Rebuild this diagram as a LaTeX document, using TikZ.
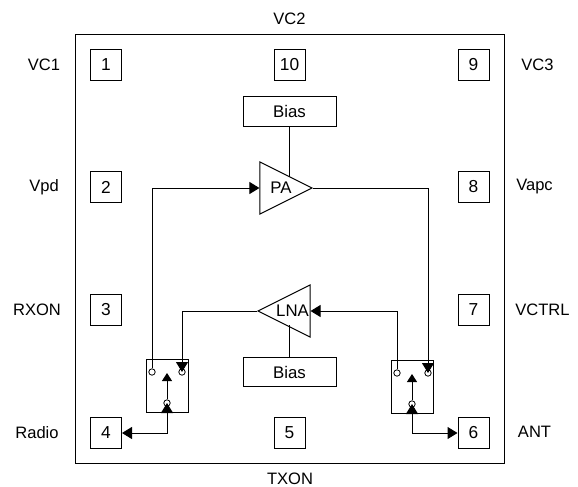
\documentclass[tikz,border=0pt]{standalone}
\usepackage{fontspec}
\setmainfont{Liberation Sans}
\usetikzlibrary{arrows.meta,shapes.geometric}
\tikzset{
  px/.style={x=0.75pt,y=-0.75pt},
  wire/.style={draw=black,line width=0.75pt},
  bigtip/.tip={Triangle[length=7.5pt,width=9pt]},
  tip/.style={-bigtip},
  pin/.style={draw,line width=0.75pt,minimum width=23.25pt,minimum height=23.25pt,inner sep=0pt,font=\fontsize{13}{15}\selectfont},
  biasbox/.style={draw,line width=0.75pt,minimum width=69.75pt,minimum height=22pt,inner sep=0pt,font=\fontsize{12.6}{14}\selectfont},
  swbox/.style={draw,line width=0.75pt,minimum width=31.5pt,minimum height=39.75pt,inner sep=0pt},
  contact/.style={circle,draw,line width=0.6pt,minimum size=4.8pt,inner sep=0pt},
  amp/.style={isosceles triangle,isosceles triangle stretches,draw,line width=0.75pt,minimum width=39pt,minimum height=39pt,inner sep=0pt},
  amplabel/.style={inner sep=0pt,font=\fontsize{12.6}{14}\selectfont},
  lab/.style={inner sep=0pt,font=\fontsize{12.4}{14}\selectfont}
}
\begin{document}
\begin{tikzpicture}[px]
\useasboundingbox (0,0) rectangle (578,486);
\node[draw,line width=0.75pt,minimum width=321.75pt,minimum height=321.75pt,inner sep=0pt] (chip) at (289.5,248.5) {};
\node[pin] (p1) at (106,65) {1};
\node[pin] (p10) at (289.5,65) {10};
\node[pin] (p9) at (473.5,65) {9};
\node[pin] (p2) at (106,187) {2};
\node[pin] (p8) at (473.5,187) {8};
\node[pin] (p3) at (106,310) {3};
\node[pin] (p7) at (473.5,310) {7};
\node[pin] (p4) at (106,433) {4};
\node[pin] (p5) at (289.5,433) {5};
\node[pin] (p6) at (473.5,433) {6};
\node[lab] (l1) at (44,65) {VC1};
\node[lab] (l2) at (289.5,18.5) {VC2};
\node[lab] (l3) at (537.5,65) {VC3};
\node[lab] (l4) at (44,187) {Vpd};
\node[lab] (l5) at (534.5,187) {Vapc};
\node[lab] (l6) at (37,310) {RXON};
\node[lab] (l7) at (542.5,310) {VCTRL};
\node[lab] (l8) at (37,433) {Radio};
\node[lab] (l9) at (534.5,432) {ANT};
\node[lab] (l10) at (290,478.5) {TXON};
\node[biasbox] (b1) at (289.5,111.5) {Bias};
\node[biasbox] (b2) at (289.5,372) {Bias};
\node[amp,shape border rotate=0] (pa) at (276,188) {};
\node[amp,shape border rotate=180] (lna) at (294,311) {};
\node[amplabel] (pat) at (281,188) {PA};
\node[amplabel] (lnat) at (292.5,311) {LNA};
\node[swbox] (s1) at (167,385.5) {};
\node[swbox] (s2) at (412,387) {};
\node[contact] (c1a) at (152,372) {};
\node[contact] (c1b) at (182,372) {};
\node[contact] (c1c) at (167,403) {};
\node[contact] (c2a) at (397,373) {};
\node[contact] (c2b) at (428,373) {};
\node[contact] (c2c) at (412,404) {};
\coordinate (w1) at (c1a |- pa.west);
\coordinate (w2) at (c2b |- pa.east);
\coordinate (w3) at (c2a |- lna.east);
\coordinate (w4) at (c1b |- lna.west);
\coordinate (w5) at (c1c |- p4.east);
\coordinate (w6) at (c2c |- p6.west);
\coordinate (t1) at (289.5,177);
\coordinate (t2) at (289.5,325);
\coordinate (u1) at (167,373);
\coordinate (u2) at (412,374);
\draw[wire,tip] (c1a.north) -- (w1) -- (pa.west);
\draw[wire,tip] (pa.east) -- (w2) -- (c2b.center);
\draw[wire,tip] (c2a.north) -- (w3) -- (lna.east);
\draw[wire,tip] (lna.west) -- (w4) -- (c1b.center);
\draw[wire] (b1) -- (t1);
\draw[wire] (b2) -- (t2);
\draw[wire,bigtip-bigtip] (p4.east) -- (w5) -- (c1c.center);
\draw[wire,bigtip-bigtip] (c2c.center) -- (w6) -- (p6.west);
\draw[wire,-{Triangle[length=6pt,width=7.5pt]}] (c1c.north) -- (u1);
\draw[wire,-{Triangle[length=6pt,width=7.5pt]}] (c2c.north) -- (u2);
\end{tikzpicture}
\end{document}
